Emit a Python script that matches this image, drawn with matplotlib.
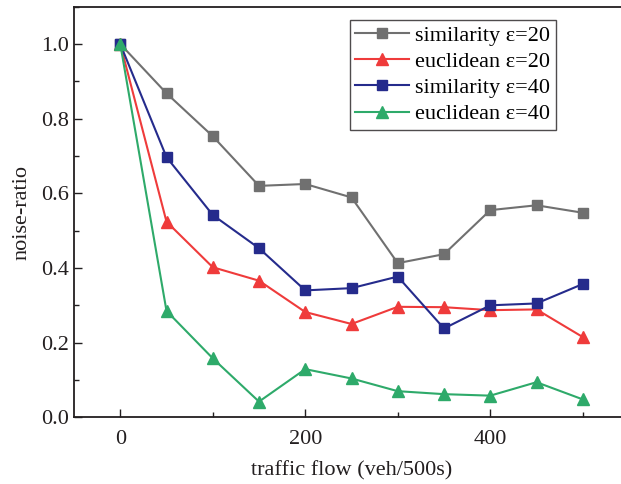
import numpy as np
import matplotlib
matplotlib.use('Agg')
import matplotlib.pyplot as plt
from matplotlib.ticker import MultipleLocator

# traffic flow (veh/500s)
flow = [0, 50, 100, 150, 200, 250, 300, 350, 400, 450, 500]
sim20 = [1.0, 0.868, 0.753, 0.620, 0.625, 0.589, 0.413, 0.437, 0.555, 0.568, 0.548]
euc20 = [1.0, 0.524, 0.402, 0.366, 0.282, 0.250, 0.296, 0.295, 0.287, 0.289, 0.215]
sim40 = [1.0, 0.697, 0.542, 0.453, 0.340, 0.346, 0.377, 0.238, 0.300, 0.305, 0.357]
euc40 = [1.0, 0.285, 0.158, 0.042, 0.129, 0.104, 0.070, 0.062, 0.058, 0.094, 0.048]

plt.rcParams['font.family'] = ['Liberation Serif', 'DejaVu Serif']

fig = plt.figure(figsize=(6.21, 4.84), dpi=100)
ax = fig.add_axes([74/621, 66.7/484, 555/621, 410.6/484])

ax.plot(flow, sim20, color='#707070', marker='s', markersize=7, lw=1.5, label='similarity ε=20')
ax.plot(flow, euc20, color='#ef3b3b', marker='^', markersize=8, lw=1.5, label='euclidean ε=20')
ax.plot(flow, sim40, color='#252b8c', marker='s', markersize=7, lw=1.5, label='similarity ε=40')
ax.plot(flow, euc40, color='#2eaa6a', marker='^', markersize=8, lw=1.5, label='euclidean ε=40')

ax.set_xlim(-50, 550)
ax.set_ylim(0, 1.1)
ax.xaxis.set_major_locator(MultipleLocator(200))
ax.xaxis.set_minor_locator(MultipleLocator(100))
ax.yaxis.set_major_locator(MultipleLocator(0.2))
ax.yaxis.set_minor_locator(MultipleLocator(0.1))
ax.yaxis.set_major_formatter(matplotlib.ticker.FormatStrFormatter('%.1f'))
ax.tick_params(direction='in', which='both', labelsize=16, colors='#231f20')
ax.tick_params(which='major', length=6, width=1)
ax.tick_params(which='minor', length=3.5, width=1)
ax.tick_params(axis='x', pad=9)
for s in ax.spines.values():
    s.set_linewidth(1.3)
    s.set_color('#231f20')

ax.set_xlabel('traffic flow (veh/500s)', fontsize=16, color='#231f20', labelpad=9)
ax.set_ylabel('noise-ratio', fontsize=16, color='#231f20', labelpad=7)

leg = ax.legend(loc='upper left', bbox_to_anchor=(0.497, 0.968), fontsize=16, frameon=True,
                fancybox=False, edgecolor='#231f20', handlelength=2.4, borderpad=0.25,
                labelspacing=0.25, handletextpad=0.3, borderaxespad=0)
leg.get_frame().set_linewidth(1.0)

fig.savefig('out.png', dpi=100)
